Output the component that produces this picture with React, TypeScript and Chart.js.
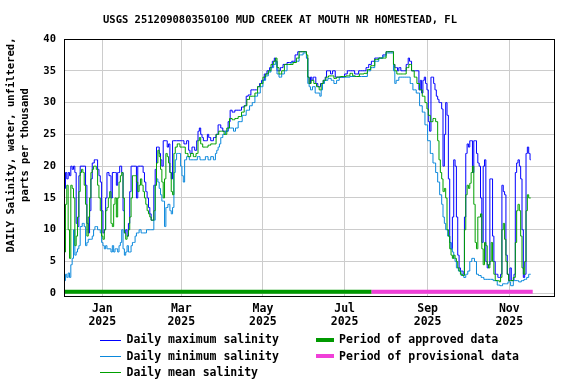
import React, { useEffect, useRef } from 'react';
import { Chart, registerables } from 'chart.js';

Chart.register(...registerables);

const TITLE = 'USGS 251209080350100 MUD CREEK AT MOUTH NR HOMESTEAD, FL';
const Y_TITLE = ['DAILY Salinity, water, unfiltered,', 'parts per thousand'];

// x values are days relative to 2025-01-01 (negative = December 2024)
const MONTH_TICKS = [0, 59, 120, 181, 243, 304];
const MONTH_LABELS = ['Jan', 'Mar', 'May', 'Jul', 'Sep', 'Nov'];
const YEAR_LABEL = '2025';
const Y_TICKS = [0, 5, 10, 15, 20, 25, 30, 35, 40];

const LEGEND_LEFT = ['Daily maximum salinity', 'Daily minimum salinity', 'Daily mean salinity'];
const LEGEND_RIGHT = ['Period of approved data', 'Period of provisional data'];

// [day, value]
const maxSeries: [number, number][] = [
  [-28,16.5],[-27,19],[-26,18],[-25,19],[-24,18.5],[-23,20],[-22,19.5],[-21,20],[-20,19],[-19,11],[-18,10.5],[-17,18.5],[-16,20],[-13,20],[-12,17],[-11,11],[-10,9.5],[-9,13],[-8,18],[-7,20.5],[-5,21],[-4,21],[-3,19.5],[-2,18.5],[-1,17.5],
  [0,13],[1,9.5],[2,10],[3,15],[4,19],[6,18.5],[7,15],[8,19],[10,19],[11,17],[12,19],[14,20],[15,19],[16,13],[17,9.5],[18,10],[19,9],[20,11],[21,16],[22,20],[25,20],[26,15],[27,20],[30,20],
  [31,19],[32,17.5],[33,16],[34,15],[35,13.5],[36,12.5],[37,11.5],[38,11.5],[39,17],[40,19.5],[41,23],[42,23],[43,22],[44,21],[45,20],[46,24],[48,24],[49,23],[50,23.5],[51,19],[52,18],[53,24],[58,24],
  [60,24],[62,23.5],[64,24],[65,22.5],[66,22],[68,23],[70,22.5],[71,24],[72,25.5],[73,26],[74,25],[75,24.5],[76,24],[78,24],[79,25],[80,24.5],[82,24],[84,24.5],[86,25],[87,26.5],[88,26.5],[89,26],
  [91,25.5],[93,25.5],[95,27],[96,28.8],[98,28.5],[100,28.8],[103,28.8],[105,29.3],[107,29.5],[108,31],[110,31.2],[112,32],[115,32],[117,32.5],[118,33],[120,33.5],[122,34.5],[124,35],[126,35.5],[128,36.5],[129,37],[130,36.5],[131,35],[132,35],[134,35.5],[136,36],[140,36.3],[143,36.5],[145,37.5],[147,38],[152,38],
  [153,37],[154,34],[155,33],[156,34],[157,33.5],[158,34],[159,34],[160,33],[162,32.5],[164,33],[166,33.5],[167,34],[168,35],[170,35],[171,34.5],[173,35],[175,34],[178,34],[180,34],[182,34.5],[184,35],[187,35],[190,34.5],[193,35],[196,35],[198,35.5],
  [200,36],[202,36.5],[205,37],[208,37],[211,37.5],[213,38],[217,38],[218,36],[219,35.5],[220,35.5],[221,35],[222,35.5],[224,35],[226,35],[228,36],[229,37],[230,36.5],[232,35],[234,35],[236,35],[237,32],[238,33.5],[239,31.5],[240,33.5],[241,34],[242,33],[243,32],[244,27],[245,25.5],[246,34],[247,34],[248,33],[249,32],[250,31],[251,30.5],[252,30],[253,30],[254,29],[255,20],[256,25],[257,30],[258,28],[259,18],[260,8],[261,7],[262,12],[263,21],[264,20],[265,12],[266,6],[267,4],[268,3.5],[269,3.5],[270,3],
  [271,12],[272,22],[273,23.5],[274,23],[275,24],[276,24],[277,19],[278,24],[279,24],[280,22],[281,20.5],[282,20],[283,15],[284,8],[285,20],[286,21],[287,5],[288,4],[289,4.5],[290,18],[291,18],[292,9],[293,5],[294,3],[295,3],[296,2.5],[297,2.5],[298,3],[299,17],[300,16],
  [301,15.5],[302,6],[303,3],[304,2],[305,4],[306,2],[307,2],[308,3],[309,19],[310,20.5],[311,21],[312,20],[313,18],[314,10],[315,2.5],[316,3],[317,22],[318,23],[319,22],[320,21]
];

const minSeries: [number, number][] = [
  [-28,2],[-27,3],[-26,2.5],[-25,3.2],[-24,2.5],[-23,4.5],[-22,5.5],[-21,10],[-20,6],[-19,6.5],[-18,7],[-17,7.5],[-16,10.5],[-14,11],[-13,10.5],[-12,7.5],[-11,8],[-10,8.5],[-8,8.5],[-7,9],[-6,10],[-5,10.5],[-4,10.5],[-3,10],[-2,10],[-1,9.5],
  [0,8],[1,7.5],[2,7],[3,7.5],[4,7],[6,7],[7,6.5],[8,7.5],[9,6.5],[10,7],[11,7],[12,6.5],[13,7.5],[14,8],[15,10],[16,7],[17,6],[18,6.5],[19,7.5],[20,6.5],[21,6.5],[22,7.5],[23,8],[24,8],[25,9],[26,9.5],[27,9.5],[28,10],[30,9.5],
  [32,9.5],[34,10],[36,10],[38,10],[39,11.5],[40,17],[41,18],[42,17.5],[43,16.5],[44,15.5],[45,14.5],[46,14.5],[47,10.5],[48,13.5],[50,14],[51,13],[52,12.5],[53,13.5],[54,19],[55,21],[56,22],[58,22],[59,20],[60,18.5],[61,17.5],[62,21],[64,21.5],[66,21],[70,21],[72,21.5],[74,21],[76,21],[78,21.5],[80,21],[82,21.5],[84,21],[85,22],[86,22.5],[87,23],[88,23.5],[89,24.5],
  [91,25],[93,25.5],[95,26],[97,26],[99,25.5],[100,26],[103,27],[106,28],[109,28.8],[111,29.5],[113,30],[115,31],[117,31.5],[119,32.5],[121,33.5],[123,34.2],[125,34.8],[127,35.5],[129,36],[130,36.5],[131,34.5],[133,34],[135,34.5],[137,35],[139,36],[143,36.3],[146,36.5],[148,37.5],[152,37.8],
  [153,37],[154,33],[155,32.5],[156,32],[158,32.5],[160,31.5],[162,31.5],[163,31],[164,32],[165,33],[167,33.5],[170,33.8],[172,33.5],[174,33],[176,33.5],[178,34],[180,34],[190,34.1],[197,34.1],[199,35],
  [202,35.5],[205,36.5],[208,37],[211,37.3],[213,37.8],[217,37.8],[218,35],[219,33],[220,33.5],[223,34],[226,34],[229,34],[231,33],[233,32],[236,31.5],[238,29.5],[240,28.5],[242,26.5],[244,24],[246,22],[248,20.5],[250,19],[251,17.5],[253,15.5],[254,14],[255,12],[256,11],[257,10],[259,9],[260,8],[261,7],[262,6.5],[263,5.5],[264,5],[265,4],[267,3.5],[269,2.8],
  [271,2.5],[272,3],[274,3.5],[275,5],[277,5.5],[279,5],[280,3],[282,2.8],[284,2.5],[286,2.2],[290,2.2],[294,2],[296,1.3],[298,1.2],[300,1.5],[302,1.5],[304,1.8],[306,1.2],[308,2],[310,2],[312,1.8],[314,2],[316,2.2],[318,2.5],[319,3],[320,3]
];

const meanSeries: [number, number][] = [
  [-28,6.5],[-27,14],[-26,17],[-25,10],[-24,5.5],[-23,17],[-22,16.5],[-21,15],[-20,7.5],[-19,9],[-18,12],[-17,16],[-16,19],[-15,19.5],[-14,19],[-13,17],[-12,14],[-11,9],[-10,12],[-9,15],[-8,19],[-7,19.5],[-6,20],[-5,20],[-4,19.5],[-3,17],[-2,15],[-1,13],
  [0,9],[1,8.5],[2,10],[3,13],[4,13.5],[5,15],[6,16],[7,11],[8,10.5],[9,14],[10,15],[11,12],[12,15],[13,17.5],[14,18.5],[15,19],[16,15],[17,9.5],[18,8.5],[19,9],[20,10],[21,12],[22,15],[23,18.5],[24,18.5],[25,18.5],[26,17.5],[27,16],[28,17],[29,18],[30,17],
  [31,16],[32,15],[33,14],[34,13],[35,12.5],[36,12],[37,11.5],[38,11.5],[39,13],[40,17],[41,20.5],[42,22.5],[43,21.5],[44,19.5],[45,17.5],[46,15],[47,18],[48,22],[49,21.5],[50,20.5],[51,19],[52,16],[53,15.5],[54,22],[55,23],[57,23.5],[59,23],
  [61,23],[63,22],[65,21.5],[67,22],[69,21.5],[71,22],[72,24],[73,24.5],[74,23.5],[76,23],[78,23],[80,23.3],[82,23.5],[84,23.5],[86,25],[88,25.5],[90,25.5],
  [92,25],[94,26],[96,27.5],[98,27.3],[100,27.5],[103,27.8],[105,28.5],[107,29.5],[109,30.5],[111,31],[113,31],[115,31.5],[117,32.5],[119,33],[121,34],[123,34.5],[125,35],[127,36],[129,36.5],[130,37],[131,35.5],[133,34.5],[135,35],[137,36],[141,36],[144,36.3],[146,37],[148,38],[152,38],
  [153,37.5],[154,34],[155,33],[157,33.5],[159,33],[161,32.5],[163,32],[164,33],[166,33.5],[168,34],[170,34.2],[172,34.2],[174,33.8],[176,34],[180,34.1],[184,34.2],[186,34.6],[188,34.2],[190,34.1],[194,34.5],[197,34.6],[199,35.2],
  [202,35.8],[205,36.8],[208,37],[211,37],[213,38],[217,38],[218,36],[219,35],[221,34.5],[224,34.5],[226,34.5],[228,35.5],[230,36],[232,35],[234,34],[236,33],[238,32],[240,31],[242,30],[243,29],[244,28],[246,27],[248,27.5],[250,27],
  [251,24],[252,21],[253,19],[254,18],[255,16],[256,16.5],[257,15],[258,10],[259,9],[260,7],[261,6],[262,5.5],[263,6],[264,5.5],[265,5],[266,4],[267,3.5],[268,3],[270,2.8],
  [271,10],[272,15.5],[273,17],[274,16.5],[275,17.3],[276,19],[277,20],[278,14],[279,8],[280,7],[281,12],[282,12],[283,12.5],[284,7],[285,4.5],[286,8],[287,7.5],[288,4.5],[289,4],[290,5],[291,8],[292,5],[293,3],[294,2],[296,2],[297,1.8],[298,2.5],[299,10],[300,11],
  [301,8.5],[302,5],[303,3],[304,2],[306,2],[308,2.5],[309,8],[310,13],[311,14],[312,13],[313,9],[314,4],[315,3],[316,5],[317,13],[318,15.5],[319,15],[320,15]
];

// approval periods: [startDay, endDay]
const approvedPeriod: [number, number] = [-28.6, 201];
const provisionalPeriod: [number, number] = [201, 321.5];
const PERIOD_LEVEL = 0.25;

const X_MIN = -28.6;
const X_MAX = 337.4;
const Y_MIN = -0.42;
const Y_MAX = 40;

const C_MAX = '#0000ff';
const C_MIN = '#0a88dc';
const C_MEAN = '#00a000';
const C_APPROVED = '#009900';
const C_PROV = '#f040d8';
const FONT = '"DejaVu Sans Mono", "Liberation Mono", monospace';

const toXY = (s: [number, number][]) => s.map(([x, y]) => ({ x, y }));

const overlayPlugin = {
  id: 'overlay',
  afterDraw(chart: any) {
    const ctx = chart.ctx as CanvasRenderingContext2D;
    const a = chart.chartArea;
    ctx.save();
    // plot border
    ctx.strokeStyle = '#000';
    ctx.lineWidth = 1;
    ctx.strokeRect(Math.round(a.left) + 0.5, Math.round(a.top) + 0.5, Math.round(a.right - a.left), Math.round(a.bottom - a.top));
    // title
    ctx.fillStyle = '#000';
    ctx.font = `bold 10.5px ${FONT}`;
    ctx.textAlign = 'center';
    ctx.textBaseline = 'middle';
    ctx.fillText(TITLE, 280, 20);
    // y title
    ctx.save();
    ctx.translate(11, 145);
    ctx.rotate(-Math.PI / 2);
    ctx.fillText(Y_TITLE[0], 0, 0);
    ctx.fillText(Y_TITLE[1], 0, 14.5);
    ctx.restore();
    // legend
    ctx.font = `bold 11.5px ${FONT}`;
    ctx.textAlign = 'left';
    const rows = [340, 356.3, 372.3];
    const leftColors = [C_MAX, C_MIN, C_MEAN];
    LEGEND_LEFT.forEach((t, i) => {
      ctx.strokeStyle = leftColors[i];
      ctx.lineWidth = 1;
      ctx.beginPath();
      ctx.moveTo(100, Math.round(rows[i]) + 0.5);
      ctx.lineTo(121, Math.round(rows[i]) + 0.5);
      ctx.stroke();
      ctx.fillStyle = '#000';
      ctx.fillText(t, 126.5, rows[i] + 0.5);
    });
    const rightColors = [C_APPROVED, C_PROV];
    LEGEND_RIGHT.forEach((t, i) => {
      ctx.fillStyle = rightColors[i];
      ctx.fillRect(316, Math.round(rows[i]) - 2, 18, 4);
      ctx.fillStyle = '#000';
      ctx.fillText(t, 339, rows[i] + 0.5);
    });
    ctx.restore();
  },
};

export default function App() {
  const ref = useRef<HTMLCanvasElement | null>(null);
  useEffect(() => {
    if (!ref.current) return;
    const line = (data: any[], color: string, order: number) => ({
      data,
      borderColor: color,
      backgroundColor: color,
      borderWidth: 1,
      pointRadius: 0,
      stepped: 'middle',
      fill: false,
      order,
    });
    const period = (p: [number, number], color: string) => ({
      data: [{ x: p[0], y: PERIOD_LEVEL }, { x: p[1], y: PERIOD_LEVEL }],
      borderColor: color,
      backgroundColor: color,
      borderWidth: 4,
      borderCapStyle: 'butt',
      pointRadius: 0,
      fill: false,
      order: 0,
    });
    const chart = new Chart(ref.current, {
      type: 'line',
      data: {
        datasets: [
          line(toXY(maxSeries), C_MAX, 3),
          line(toXY(minSeries), C_MIN, 2),
          line(toXY(meanSeries), C_MEAN, 1),
          period(approvedPeriod, C_APPROVED),
          period(provisionalPeriod, C_PROV),
        ] as any,
      },
      options: {
        animation: false,
        responsive: false,
        devicePixelRatio: 1,
        layout: { padding: { left: 0, top: 39, right: 22, bottom: 48 } },
        plugins: { legend: { display: false }, title: { display: false }, tooltip: { enabled: false } },
        scales: {
          x: {
            type: 'linear',
            min: X_MIN,
            max: X_MAX,
            afterBuildTicks: (s: any) => { s.ticks = MONTH_TICKS.map((v) => ({ value: v })); },
            afterFit: (s: any) => { s.height = 40; },
            grid: { color: '#cccccc', lineWidth: 1, drawTicks: false },
            border: { display: false },
            ticks: {
              autoSkip: false,
              maxRotation: 0,
              padding: 7,
              color: '#000',
              font: { family: FONT, size: 11.5, weight: 'bold', lineHeight: 1.1 },
              callback: (_v: any, i: number) => [MONTH_LABELS[i], YEAR_LABEL],
            },
          },
          y: {
            type: 'linear',
            min: Y_MIN,
            max: Y_MAX,
            afterBuildTicks: (s: any) => { s.ticks = Y_TICKS.map((v) => ({ value: v })); },
            afterFit: (s: any) => { s.width = 64; },
            grid: { color: '#cccccc', lineWidth: 1, drawTicks: false },
            border: { display: false },
            ticks: {
              padding: 8,
              color: '#000',
              font: { family: FONT, size: 10.5, weight: 'bold' },
              callback: (v: any) => String(v),
            },
          },
        },
      } as any,
      plugins: [overlayPlugin],
    });
    return () => chart.destroy();
  }, []);
  return (
    <div style={{ position: 'fixed', left: 0, top: 0, width: 576, height: 384, background: '#fff' }}>
      <canvas ref={ref} width={576} height={384} style={{ display: 'block' }} />
    </div>
  );
}
